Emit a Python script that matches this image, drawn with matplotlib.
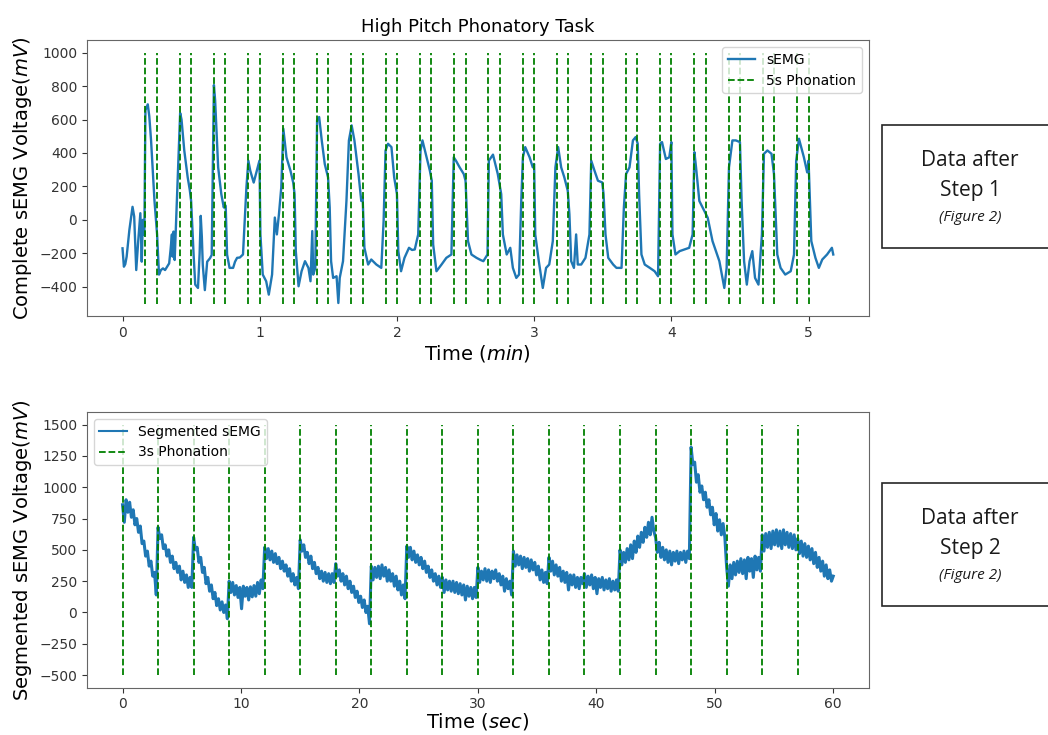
import matplotlib
matplotlib.use('Agg')
import matplotlib.pyplot as plt
from matplotlib.patches import Rectangle
from matplotlib.lines import Line2D
import numpy as np

# complete recording, time in minutes vs voltage in mV
complete_t_min = [0.0, 0.01, 0.02, 0.03, 0.05, 0.073, 0.085, 0.10, 0.115, 0.13, 0.14, 0.148, 0.159,
                  0.167, 0.184, 0.195, 0.208, 0.233, 0.252, 0.266, 0.28, 0.295, 0.31, 0.325, 0.34,
                  0.35, 0.36, 0.365, 0.372, 0.38, 0.40, 0.42, 0.43, 0.45, 0.475, 0.49, 0.50, 0.518,
                  0.53, 0.55, 0.562, 0.57, 0.578, 0.585, 0.60, 0.617, 0.637, 0.65, 0.658, 0.666,
                  0.675, 0.697, 0.72, 0.738, 0.745, 0.752, 0.762, 0.78, 0.806, 0.82, 0.835, 0.855,
                  0.878, 0.903, 0.917, 0.931, 0.956, 0.985, 0.998, 1.005, 1.022, 1.047, 1.066, 1.09,
                  1.11, 1.125, 1.14, 1.157, 1.172, 1.195, 1.224, 1.244, 1.254, 1.263, 1.283, 1.305,
                  1.33, 1.355, 1.37, 1.383, 1.39, 1.405, 1.418, 1.433, 1.452, 1.474, 1.498, 1.51,
                  1.52, 1.535, 1.56, 1.573, 1.583, 1.607, 1.632, 1.65, 1.67, 1.69, 1.72, 1.74, 1.75,
                  1.763, 1.79, 1.813, 1.85, 1.886, 1.903, 1.917, 1.935, 1.96, 1.98, 2.0, 2.01, 2.03,
                  2.055, 2.088, 2.11, 2.13, 2.155, 2.172, 2.186, 2.21, 2.24, 2.254, 2.264, 2.288,
                  2.325, 2.36, 2.397, 2.414, 2.43, 2.457, 2.487, 2.5, 2.518, 2.543, 2.58, 2.61, 2.63,
                  2.66, 2.67, 2.70, 2.735, 2.76, 2.772, 2.80, 2.826, 2.845, 2.87, 2.89, 2.906, 2.918,
                  2.935, 2.967, 2.99, 3.0, 3.008, 3.034, 3.063, 3.087, 3.11, 3.136, 3.155, 3.175,
                  3.197, 3.22, 3.245, 3.257, 3.27, 3.29, 3.306, 3.318, 3.343, 3.374, 3.403, 3.416,
                  3.44, 3.465, 3.496, 3.506, 3.52, 3.54, 3.576, 3.6, 3.637, 3.654, 3.67, 3.695, 3.72,
                  3.74, 3.755, 3.765, 3.782, 3.806, 3.843, 3.878, 3.903, 3.918, 3.932, 3.96, 3.985,
                  4.0, 4.008, 4.03, 4.06, 4.094, 4.13, 4.155, 4.168, 4.18, 4.204, 4.265, 4.30, 4.35,
                  4.386, 4.403, 4.42, 4.445, 4.47, 4.5, 4.512, 4.53, 4.55, 4.57, 4.59, 4.61, 4.635,
                  4.66, 4.675, 4.7, 4.73, 4.748, 4.772, 4.796, 4.83, 4.87, 4.894, 4.91, 4.93, 4.966,
                  4.99, 5.0, 5.02, 5.05, 5.075, 5.1, 5.135, 5.17, 5.18]
complete_mv = [-170, -280, -265, -220, -60, 78, 20, -300, -120, 40, -250, 0, -90,
               655, 691, 620, 475, 113, -87, -327, -300, -290, -300, -280, -260,
               -180, -87, -220, -70, -240, 200, 639, 600, 415, 254, 180, 113, -207,
               -387, -407, -200, 24, -100, -270, -420, -250, -230, -210, 300, 806,
               715, 314, 154, 74, 90, 84, -207, -287, -287, -250, -227, -225,
               -207, 194, 354, 294, 223, 314, 354, -87, -327, -367, -447, -327,
               14, -87, 34, 194, 545, 374, 294, 223, 154, -187, -397, -307,
               -247, -287, -367, -67, -327, -287, 595, 615, 475, 334, 254, 74,
               -247, -347, -337, -497, -347, -247, 113, 475, 565, 475, 274, 113, 134,
               -167, -267, -237, -267, -287, -6, 415, 455, 435, 254, 154, -187, -307,
               -227, -167, -180, -177, -87, 415, 475, 395, 294, 234, -147, -307,
               -267, -227, -207, 374, 354, 314, 274, 234, -127, -207, -227, -240, -247,
               -207, 354, 390, 274, 154, -87, -207, -167, -287, -347, -327, 113, 374,
               435, 374, 314, 334, -87, -247, -407, -287, -267, -127, 314, 435,
               314, 254, 174, 34, -247, -287, -87, -267, -267, -227, -87, 354,
               294, 234, 224, 154, -87, -227, -267, -287, -287, 74, 274, 314, 475,
               495, 455, 154, -207, -267, -287, -307, -337, 455, 465, 364, 374,
               465, -87, -207, -187, -177, -167, -87, 405, 314, 113, 13, -127, -247,
               -407, -287, 314, 475, 475, 465, 113, -247, -387, -247, -187, -347, -387,
               -87, 395, 415, 395, 274, -207, -287, -327, -307, -207, 354, 485, 374,
               284, 354, -127, -227, -287, -237, -207, -167, -207]

# 5 s phonation windows (start/end, seconds into the recording)
phonation5_sec = [10, 15, 25, 30, 40, 45, 55, 60, 70, 75, 85, 90, 100, 105, 115, 120,
                  130, 135, 145, 150, 160, 165, 175, 180, 190, 195, 205, 210, 220, 225,
                  235, 240, 250, 255, 265, 270, 280, 285, 295, 300]

# segmented signal, one row per 3 s segment, sampled every 0.15 s
segment_step_sec = 0.15
segmented_mv = [
    860, 720, 900, 800, 880, 760, 820, 700, 750, 640, 690, 550, 570, 450, 490, 370, 410, 290, 320, 140,
    680, 590, 620, 510, 540, 450, 500, 400, 450, 350, 400, 320, 370, 260, 330, 240, 300, 200, 280, 200,
    600, 500, 520, 400, 440, 320, 360, 230, 280, 170, 220, 110, 160, 55, 110, 20, 85, 0, 60, -50,
    250, 160, 240, 140, 215, 120, 200, 30, 210, 130, 200, 100, 205, 125, 215, 130, 240, 150, 260, 190,
    520, 430, 510, 420, 490, 400, 470, 390, 440, 350, 410, 330, 380, 290, 350, 250, 310, 220, 280, 190,
    580, 490, 540, 440, 480, 390, 450, 350, 400, 310, 360, 270, 330, 250, 320, 240, 310, 230, 310, 240,
    390, 290, 340, 250, 310, 220, 290, 190, 250, 160, 210, 120, 170, 80, 130, 40, 100, 0, 50, -90,
    370, 260, 360, 280, 370, 270, 380, 290, 360, 250, 340, 250, 310, 210, 290, 180, 250, 140, 220, 110,
    530, 440, 520, 420, 490, 400, 460, 380, 440, 350, 410, 320, 370, 280, 340, 250, 310, 220, 290, 200,
    280, 160, 260, 180, 250, 170, 250, 160, 240, 150, 230, 140, 220, 100, 210, 130, 200, 110, 200, 120,
    360, 240, 330, 260, 350, 250, 340, 240, 330, 270, 340, 250, 310, 220, 290, 170, 270, 190, 250, 140,
    490, 370, 460, 380, 450, 350, 440, 360, 430, 330, 420, 340, 400, 300, 370, 260, 340, 240, 320, 230,
    440, 330, 410, 300, 380, 290, 360, 250, 330, 240, 320, 180, 300, 220, 300, 200, 280, 190, 280, 230,
    310, 200, 290, 220, 300, 190, 280, 150, 270, 200, 280, 180, 260, 190, 270, 170, 250, 180, 260, 170,
    500, 380, 480, 400, 510, 420, 540, 430, 570, 480, 610, 520, 640, 560, 680, 600, 720, 620, 760, 650,
    600, 480, 560, 440, 520, 420, 500, 400, 490, 380, 480, 410, 490, 390, 480, 420, 490, 400, 490, 430,
    1320, 1180, 1200, 1040, 1100, 960, 1010, 900, 960, 840, 900, 780, 840, 700, 790, 650, 740, 620, 710, 600,
    360, 210, 380, 270, 400, 300, 410, 320, 430, 310, 420, 270, 440, 330, 430, 280, 450, 340, 440, 330,
    620, 490, 630, 520, 640, 510, 650, 540, 660, 530, 650, 510, 660, 540, 640, 520, 630, 510, 620, 500,
    590, 470, 570, 450, 550, 440, 530, 420, 510, 390, 480, 360, 440, 330, 410, 290, 380, 270, 340, 250, 290,
]

# 3 s phonation onsets in the segmented signal
phonation3_sec = [0, 3, 6, 9, 12, 15, 18, 21, 24, 27, 30, 33, 36, 39, 42, 45, 48, 51, 54, 57]

seg_t = np.arange(len(segmented_mv)) * segment_step_sec

tick_fs = 10
label_fs = 14
frame_col = '0.4'
blue = '#1f77b4'

fig = plt.figure(figsize=(10.48, 7.35), dpi=100)
ax1 = fig.add_axes([0.083, 0.570, 0.746, 0.3755])
ax2 = fig.add_axes([0.083, 0.0644, 0.746, 0.375])

ax1.plot(complete_t_min, complete_mv, color=blue, linewidth=1.7, label='sEMG')
ax1.vlines(np.array(phonation5_sec) / 60.0, -500, 1000, colors='green', linestyles='--',
           linewidth=1.3, label='5s Phonation')
ax1.set_title('High Pitch Phonatory Task', fontsize=13)
ax1.set_xlabel('Time ($min$)', fontsize=label_fs, labelpad=2)
ax1.set_ylabel('Complete sEMG Voltage($mV$)', fontsize=label_fs)
ax1.set_yticks([-400, -200, 0, 200, 400, 600, 800, 1000])
ax1.legend(loc='upper right', fontsize=10)

# noisy band: thicker stroke so the jitter fills in
ax2.plot(seg_t, segmented_mv, color=blue, linewidth=2.2, solid_joinstyle='round')
ax2.vlines(phonation3_sec, -500, 1500, colors='green', linestyles='--', linewidth=1.3)
ax2.set_xlabel('Time ($sec$)', fontsize=label_fs, labelpad=0)
ax2.set_ylabel('Segmented sEMG Voltage($mV$)', fontsize=label_fs)
ax2.set_yticks([-500, -250, 0, 250, 500, 750, 1000, 1250, 1500])
handles = [Line2D([], [], color=blue, linewidth=1.5),
           Line2D([], [], color='green', linestyle='--', linewidth=1.3)]
ax2.legend(handles, ['Segmented sEMG', '3s Phonation'], loc='upper left', fontsize=10)

for ax in (ax1, ax2):
    ax.tick_params(labelsize=tick_fs, colors='0.2')
    for sp in ax.spines.values():
        sp.set_color(frame_col)

# side annotation boxes
for y0, step in ((0.6626, 'Step 1'), (0.1755, 'Step 2')):
    fig.patches.append(Rectangle((0.8416, y0), 0.2, 0.168, transform=fig.transFigure,
                                 facecolor='white', edgecolor='0.15', linewidth=1.2))
    fig.text(0.9256, y0 + 0.119, 'Data after', ha='center', va='center',
             fontsize=15, family='Open Sans', color='0.1')
    fig.text(0.9256, y0 + 0.078, step, ha='center', va='center',
             fontsize=15, family='Open Sans', color='0.1')
    fig.text(0.9256, y0 + 0.042, '(Figure 2)', ha='center', va='center',
             fontsize=11, family='Open Sans', style='italic', color='0.1')

fig.savefig('out.png', dpi=100)
